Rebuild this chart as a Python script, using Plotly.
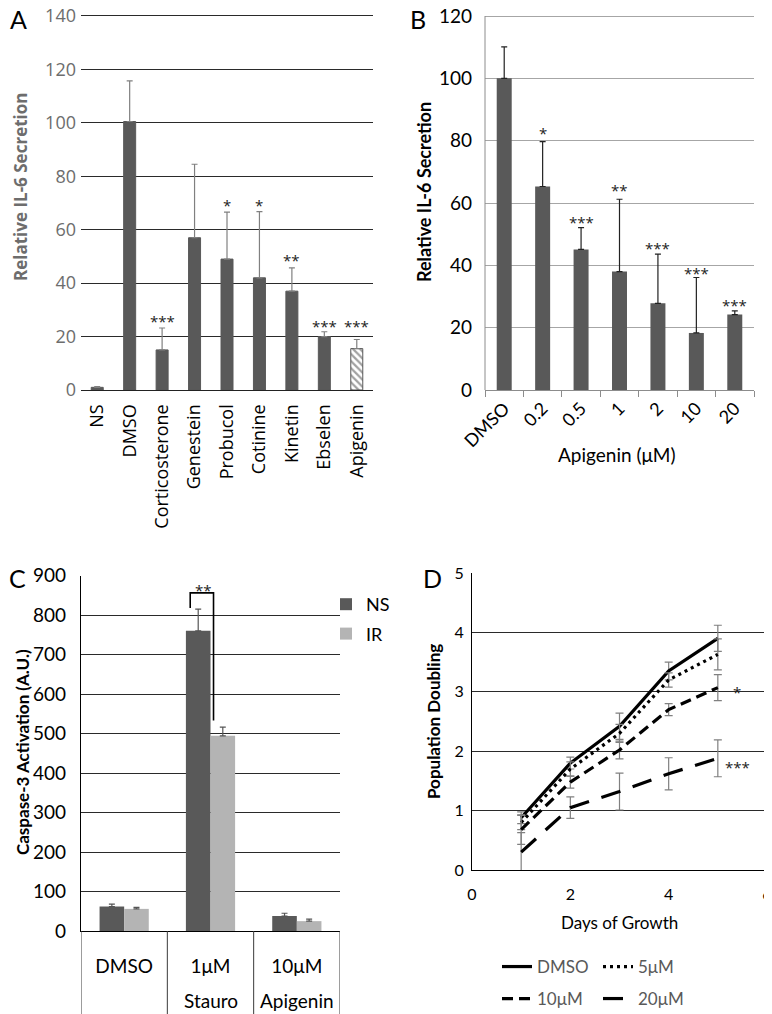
import plotly.graph_objects as go

# the page body adds an 8px offset; work in screen pixels and convert
OFF = 8
W, H = 772 - OFF, 1014 - OFF


def fx(p):
    return (p - OFF) / W


def fy(p):
    return 1 - (p - OFF) / H


# ---------------- data ----------------
# Panel A
a_cats = ["NS", "DMSO", "Corticosterone", "Genestein", "Probucol", "Cotinine", "Kinetin", "Ebselen", "Apigenin"]
a_vals = [1, 100.5, 15, 57, 49, 42, 37, 20, 15.5]
a_err = [0.3, 15.2, 8.2, 27.5, 17.6, 24.8, 8.7, 1.8, 3.4]
a_stars = ["", "", "***", "", "*", "*", "**", "***", "***"]
a_star_y = [None, None, 27.4, None, 70.8, 70.8, 50.2, 25.3, 25.3]

# Panel B
b_cats = ["DMSO", "0.2", "0.5", "1", "2", "10", "20"]
b_vals = [100, 65.3, 45.1, 38, 27.8, 18.3, 24.2]
b_err = [10.1, 14.4, 7.0, 23.2, 15.8, 17.8, 1.2]
b_stars = ["", "*", "***", "**", "***", "***", "***"]
b_star_y = [None, 83.6, 55.1, 65.5, 46.7, 38.7, 28.5]

# Panel C
c_cats = ["DMSO", "Stauro", "Apigenin"]
c_row1 = ["DMSO", "1μM", "10μM"]
c_row2 = ["", "Stauro", "Apigenin"]
c_ns = [62, 760, 38]
c_ns_err = [6, 55, 7]
c_ir = [56, 494, 25]
c_ir_err = [4, 22, 5]

# Panel D
d_days = [1, 2, 3, 4, 5]
d_dmso = [0.88, 1.8, 2.42, 3.35, 3.9]
d_dmso_err = [0.1, 0.1, 0.22, 0.15, 0.22]
d_5 = [0.8, 1.7, 2.3, 3.2, 3.63]
d_5_err = [0.12, 0.12, 0.15, 0.12, 0.26]
d_10 = [0.68, 1.48, 2.02, 2.7, 3.07]
d_10_err = [0.25, 0.1, 0.15, 0.1, 0.22]
d_20 = [0.3, 1.05, 1.32, 1.62, 1.88]
d_20_err = [0.33, 0.18, 0.31, 0.27, 0.31]

# ---------------- style ----------------
DARK = "#595959"
LIGHT = "#b4b4b4"
FA = "Open Sans"
FB = "Lato"
STAR = dict(family=FA, size=15, color="#222")

# small headroom above the top gridline so it is not clipped
A_TOP, B_TOP = 141, 121
A_PX = (390 - 16) / 140   # px per unit
B_PX = (390 - 16) / 120

fig = go.Figure()

# ---- Panel A ----
fig.add_trace(go.Bar(
    x=a_cats, y=a_vals, width=0.37,
    marker=dict(
        color=["white" if c == "Apigenin" else DARK for c in a_cats],
        line=dict(color=DARK, width=1),
        pattern=dict(shape=["\\" if c == "Apigenin" else "" for c in a_cats],
                     fgcolor=DARK, size=5, solidity=0.45, fillmode="overlay"),
    ),
    error_y=dict(type="data", array=a_err, arrayminus=[0] * len(a_err), symmetric=False,
                 color="#808080", thickness=1.2, width=3),
    xaxis="x", yaxis="y", showlegend=False,
))

# ---- Panel B ----
fig.add_trace(go.Bar(
    x=b_cats, y=b_vals, width=0.39,
    marker=dict(color=DARK, line=dict(width=0)),
    error_y=dict(type="data", array=b_err, arrayminus=[0] * len(b_err), symmetric=False,
                 color="#222222", thickness=1.2, width=3),
    xaxis="x2", yaxis="y2", showlegend=False,
))

# ---- Panel C ----
fig.add_trace(go.Bar(
    x=c_cats, y=c_ns, width=0.285, offset=-0.285, name="NS",
    marker=dict(color=DARK, line=dict(width=0)),
    error_y=dict(type="data", array=c_ns_err, arrayminus=[0] * 3, symmetric=False,
                 color="#555555", thickness=1.2, width=3),
    xaxis="x3", yaxis="y3", legend="legend", legendgroup="ns",
))
fig.add_trace(go.Bar(
    x=c_cats, y=c_ir, width=0.285, offset=0, name="IR",
    marker=dict(color=LIGHT, line=dict(width=0)),
    error_y=dict(type="data", array=c_ir_err, arrayminus=[0] * 3, symmetric=False,
                 color="#555555", thickness=1.2, width=3),
    xaxis="x3", yaxis="y3", legend="legend", legendgroup="ir",
))

# ---- Panel D ----
d_series = [
    ("DMSO", d_dmso, d_dmso_err, "solid", "legend2"),
    ("5μM", d_5, d_5_err, "3px,4px", "legend2"),
    ("10μM", d_10, d_10_err, "11px,6px", "legend3"),
    ("20μM", d_20, d_20_err, "20px,13px", "legend3"),
]
for name, ys, es, dash, lg in d_series:
    fig.add_trace(go.Scatter(
        x=d_days, y=ys, mode="lines", name=name,
        line=dict(color="black", width=3.2, dash=dash),
        error_y=dict(type="data", array=es, color="#808080", thickness=1.2, width=4),
        xaxis="x4", yaxis="y4", legend=lg,
    ))

# ---------------- annotations ----------------
ann = []


def note(**kw):
    kw.setdefault("showarrow", False)
    kw.setdefault("xanchor", "center")
    kw.setdefault("yanchor", "middle")
    ann.append(kw)


for i, (s, y) in enumerate(zip(a_stars, a_star_y)):
    if s:
        note(x=i, y=y, xref="x", yref="y", text=s, font=STAR, yshift=-4)
for i, (s, y) in enumerate(zip(b_stars, b_star_y)):
    if s:
        note(x=i, y=y, xref="x2", yref="y2", text=s, font=STAR, yshift=-4)

# C: second row of group labels
for i, t in enumerate(c_row2):
    if t:
        note(x=i, y=fy(1000), xref="x3", yref="paper", text=t,
             font=dict(family=FB, size=19, color="black"))
# C: significance
note(x=0.92, y=874, xref="x3", yref="y3", text="**", font=STAR, yshift=-4)

# D stars
note(x=5.38, y=3.06, xref="x4", yref="y4", text="*", font=STAR, yshift=-4)
note(x=5.41, y=1.8, xref="x4", yref="y4", text="***", font=STAR, yshift=-4)

# axis titles
note(x=fx(20), y=fy(187), xref="paper", yref="paper", text="<b>Relative IL-6 Secretion</b>",
     textangle=-90, font=dict(family=FA, size=17, color="#6d6d6d"))
note(x=fx(424), y=fy(192), xref="paper", yref="paper", text="<b>Relative IL-6 Secretion</b>",
     textangle=-90, font=dict(family=FB, size=18, color="black"))
note(x=fx(617), y=fy(455), xref="paper", yref="paper", text="Apigenin (μM)",
     font=dict(family=FB, size=19, color="black"))
note(x=fx(22), y=fy(752), xref="paper", yref="paper", text="<b>Caspase-3 Activation (A.U.)</b>",
     textangle=-90, font=dict(family=FB, size=17, color="black"))
note(x=fx(433), y=fy(721), xref="paper", yref="paper", text="<b>Population Doubling</b>",
     textangle=-90, font=dict(family=FB, size=17, color="black"))
note(x=fx(619), y=fy(922), xref="paper", yref="paper", text="Days of Growth",
     font=dict(family=FB, size=17, color="black"))

# panel letters
for letter, px, py in [("A", 18, 19), ("B", 418, 19), ("C", 17, 578), ("D", 433, 578)]:
    note(x=fx(px), y=fy(py), xref="paper", yref="paper", text=letter,
         font=dict(family=FB, size=25, color="black"))

# ---------------- shapes ----------------
shapes = []
for xv in [-0.5, 0.5, 1.5, 2.5]:
    shapes.append(dict(type="line", xref="x3", yref="paper", x0=xv, x1=xv, y0=0, y1=fy(931),
                       line=dict(color="#3a3a3a", width=1)))
# bracket
shapes.append(dict(type="path", xref="x3", yref="y3",
                   path="M 0.765 818 L 0.765 856 L 1.035 856 L 1.035 533",
                   line=dict(color="black", width=1.6)))

# ---------------- layout ----------------
fig.update_layout(
    width=W, height=H, margin=dict(l=0, r=0, t=0, b=0, autoexpand=False),
    paper_bgcolor="white", plot_bgcolor="white",
    barmode="overlay",
    annotations=ann, shapes=shapes,
    xaxis=dict(domain=[fx(81), fx(373)], range=[-0.5, 8.5], type="category", anchor="y",
               showline=True, linecolor="#222", linewidth=1.2, ticks="", tickangle=-90,
               ticklabelstandoff=6, tickfont=dict(family=FA, size=18, color="black"),
               showgrid=False, zeroline=False),
    yaxis=dict(domain=[fy(390), fy(390 - A_TOP * A_PX)], range=[0, A_TOP],
               tickvals=[0, 20, 40, 60, 80, 100, 120, 140], anchor="x",
               showline=False, showgrid=True, gridcolor="#2a2a2a", gridwidth=1,
               zeroline=False, ticks="", ticklabelstandoff=4, ticklabeloverflow="allow",
               tickfont=dict(family=FA, size=18, color="#6d6d6d")),
    xaxis2=dict(domain=[fx(485), fx(754)], range=[-0.5, 6.5], type="category", anchor="y2",
                showline=True, linecolor="#8c8c8c", linewidth=1, ticks="outside",
                tickson="boundaries", ticklen=6, tickcolor="#8c8c8c", tickangle=-45,
                tickfont=dict(family=FB, size=18, color="black"), showgrid=False, zeroline=False),
    yaxis2=dict(domain=[fy(390), fy(390 - B_TOP * B_PX)], range=[0, B_TOP],
                tickvals=[0, 20, 40, 60, 80, 100, 120], anchor="x2",
                showline=False, showgrid=True,
                gridcolor="#a6a6a6", gridwidth=1, zeroline=False, ticks="", ticklabelstandoff=12,
                ticklabeloverflow="allow", tickfont=dict(family=FB, size=19, color="black")),
    xaxis3=dict(domain=[fx(81), fx(340)], range=[-0.5, 2.5], type="category", anchor="y3",
                tickvals=c_cats, ticktext=c_row1, showline=True, linecolor="black",
                linewidth=1.2, ticks="", ticklabelstandoff=18,
                tickfont=dict(family=FB, size=19, color="black"), showgrid=False, zeroline=False),
    yaxis3=dict(domain=[fy(931), fy(575.5)], range=[0, 900], dtick=100, anchor="x3",
                showline=True, linecolor="black", linewidth=1.2, showgrid=True,
                gridcolor="#2a2a2a", gridwidth=1, zeroline=False, ticks="", ticklabelstandoff=10,
                tickfont=dict(family=FB, size=19, color="black")),
    xaxis4=dict(domain=[fx(472), fx(767)], range=[0, 6], dtick=2, anchor="y4",
                showline=True, linecolor="black", linewidth=1.2, ticks="", ticklabelstandoff=10,
                ticklabeloverflow="allow",
                tickfont=dict(family=FB, size=16, color="black"), showgrid=False, zeroline=False),
    yaxis4=dict(domain=[fy(870), fy(573)], range=[0, 5], dtick=1, anchor="x4",
                showline=True, linecolor="black", linewidth=1.2, showgrid=True,
                gridcolor="#2a2a2a", gridwidth=1, zeroline=False, ticks="", ticklabelstandoff=4,
                tickfont=dict(family=FB, size=16, color="black")),
    legend=dict(x=fx(326), y=fy(586), xanchor="left", yanchor="top", bgcolor="rgba(0,0,0,0)",
                font=dict(family=FB, size=18, color="black"), tracegroupgap=3,
                traceorder="grouped", itemwidth=30),
    legend2=dict(x=fx(497), y=fy(967), xanchor="left", yanchor="middle", orientation="h",
                 bgcolor="rgba(0,0,0,0)", entrywidth=56,
                 font=dict(family=FB, size=17, color="#595959")),
    legend3=dict(x=fx(497), y=fy(999), xanchor="left", yanchor="middle", orientation="h",
                 bgcolor="rgba(0,0,0,0)", entrywidth=56,
                 font=dict(family=FB, size=17, color="#595959")),
)

# B's value axis line: only from 0 to 120, drawn through the y2 scale
fig.add_shape(type="line", xref="x2 domain", yref="y2", x0=0, x1=0, y0=0, y1=120,
              line=dict(color="#8c8c8c", width=1))

fig.write_html("out.html")
